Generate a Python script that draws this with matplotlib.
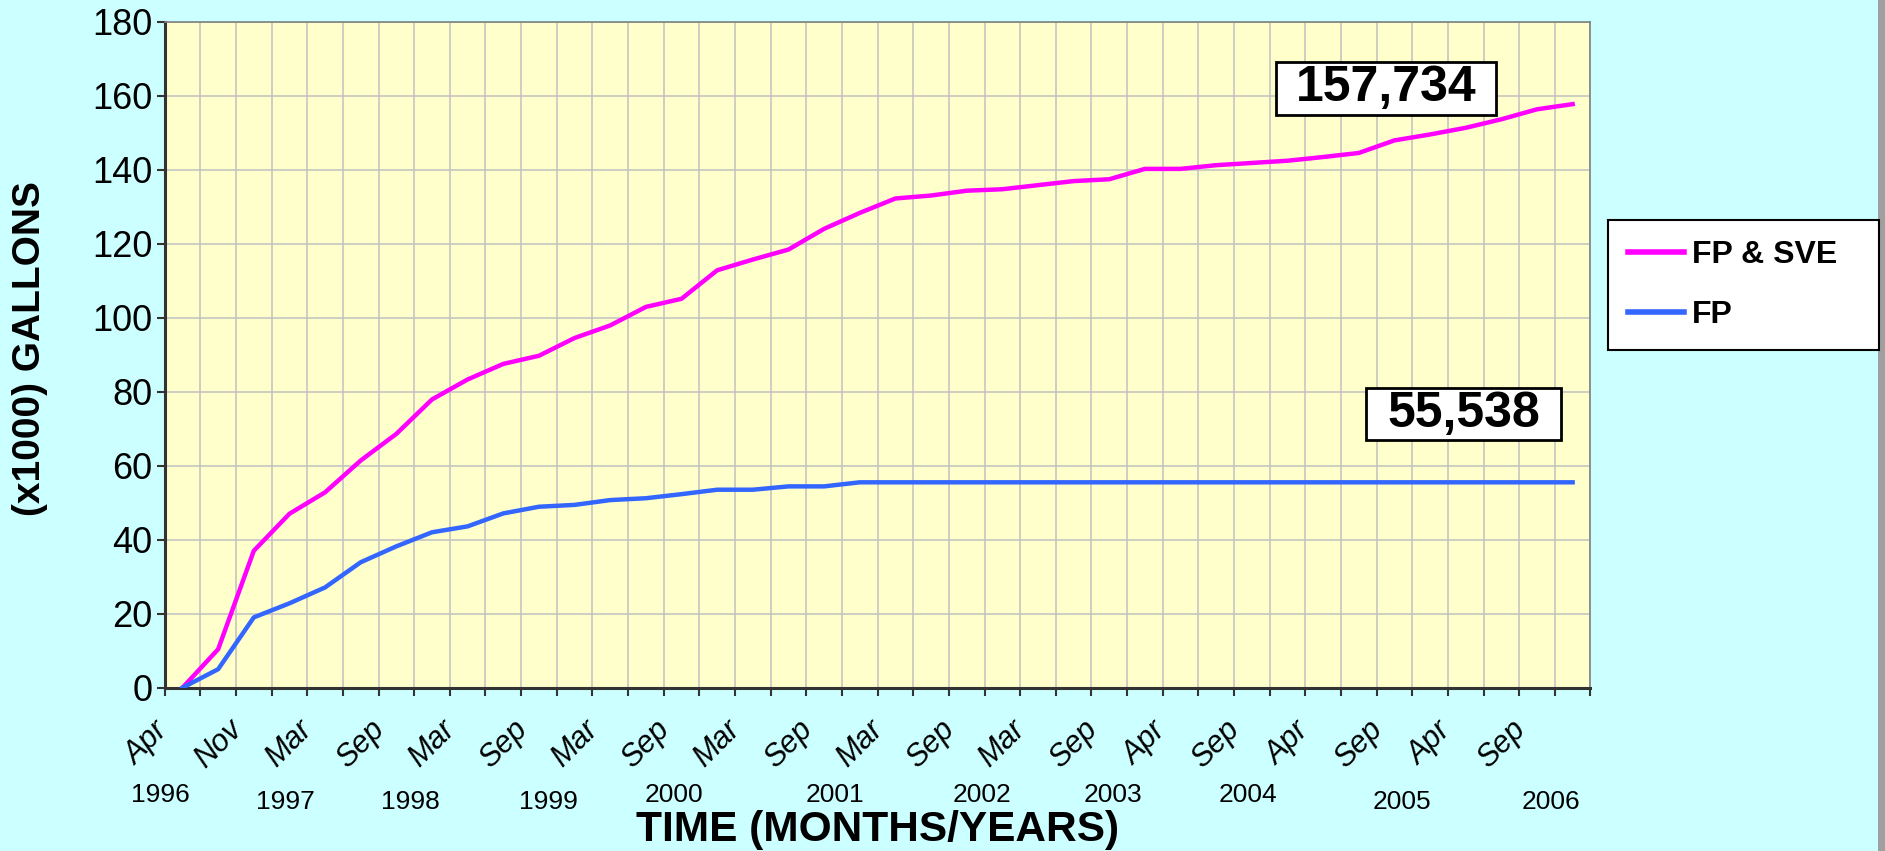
import numpy as np
import matplotlib
matplotlib.use("Agg")
import matplotlib.pyplot as plt
from matplotlib.patches import Rectangle

OUT_FILE = "out.png"

# cumulative product recovered, x1000 gallons (one value per sample period)
fp_sve = [0, 10.4, 37.0, 47.0, 52.8, 61.4, 68.6, 77.9, 83.3, 87.5,
          89.7, 94.5, 97.9, 102.9, 105.1, 112.8, 115.7, 118.4, 124.0, 128.3,
          132.2, 133.0, 134.3, 134.7, 135.8, 136.9, 137.4, 140.2, 140.2, 141.2,
          141.8, 142.4, 143.4, 144.5, 147.9, 149.5, 151.3, 153.6, 156.3, 157.7]
fp = [0, 5.0, 19.0, 22.8, 27.1, 33.9, 38.2, 42.0, 43.6, 47.1,
      48.9, 49.4, 50.7, 51.2, 52.3, 53.5, 53.5, 54.4, 54.4, 55.5,
      55.5, 55.5, 55.5, 55.5, 55.5, 55.5, 55.5, 55.5, 55.5, 55.5,
      55.5, 55.5, 55.5, 55.5, 55.5, 55.5, 55.5, 55.5, 55.5, 55.5]

series_names = ["FP & SVE", "FP"]
final_totals = ["157,734", "55,538"]

# one month label every second sample
months = ["Apr", "Nov", "Mar", "Sep", "Mar", "Sep", "Mar", "Sep", "Mar", "Sep",
          "Mar", "Sep", "Mar", "Sep", "Apr", "Sep", "Apr", "Sep", "Apr", "Sep"]
years = ["1996", "1997", "1998", "1999", "2000", "2001",
         "2002", "2003", "2004", "2005", "2006"]
# where the hand-placed year labels sit (sample units) and their row
year_x = [-0.63, 2.9, 6.4, 10.28, 13.8, 18.3, 22.44, 26.1, 29.9, 34.2, 38.4]
year_low = [False, True, True, True, False, False, False, False, False, True, True]

plt.rcParams["font.family"] = ["Liberation Sans", "DejaVu Sans"]

BG = "#CCFFFF"
PLOT_BG = "#FFFFCC"

fig = plt.figure(figsize=(18.85, 8.51), dpi=100, facecolor=BG)
ax = fig.add_axes([0.08737, 0.19190, 0.75637, 0.78272])
ax.set_facecolor(PLOT_BG)

x = np.arange(len(fp_sve))
l1, = ax.plot(x, fp_sve, color="#FF00FF", lw=3.2, zorder=3)
l2, = ax.plot(x, fp, color="#3366FF", lw=3.2, zorder=3)

ax.set_xlim(-0.5, len(fp_sve) - 0.5)
ax.set_ylim(0, 180)
ax.set_yticks(np.arange(0, 181, 20))
ax.set_xticks(np.arange(-0.5, len(fp_sve), 1))
ax.set_xticklabels([])
ax.grid(True, color="#C0C0C0", lw=1.1)
ax.set_axisbelow(True)

ax.tick_params(axis="both", direction="out", length=6, width=1.5,
               color="#333333")
ax.tick_params(axis="y", labelsize=26, pad=3)
for s in ("left", "bottom"):
    ax.spines[s].set_color("#333333")
    ax.spines[s].set_linewidth(2.2)
for s in ("top", "right"):
    ax.spines[s].set_color("#808080")
    ax.spines[s].set_linewidth(1.2)

tr = ax.get_xaxis_transform()
for k, m in enumerate(months):
    ax.text(2 * k - 1, -0.0845, m, transform=tr, rotation=45, ha="center",
            va="center", fontsize=22, style="italic", clip_on=False)
for yr, xp, low in zip(years, year_x, year_low):
    ax.text(xp, -0.1716 if low else -0.161, yr, transform=tr, ha="center",
            va="center", fontsize=19, clip_on=False)

ax.set_xlabel("TIME (MONTHS/YEARS)", fontsize=30.5, fontweight="bold",
              va="center")
ax.xaxis.set_label_coords(0.5, -0.213)
ax.set_ylabel("(x1000) GALLONS", fontsize=28, fontweight="bold", va="center")
ax.yaxis.set_label_coords(-0.0945, 0.5085)

# boxed end totals
boxes = [(0.7794, 0.8598, 0.1543, 0.0796), (0.8425, 0.3719, 0.1368, 0.0785)]
for (bx, by, bw, bh), txt in zip(boxes, final_totals):
    ax.add_patch(Rectangle((bx, by), bw, bh, transform=ax.transAxes,
                           facecolor="white", edgecolor="black", lw=2,
                           zorder=4))
    ax.text(bx + bw / 2, by + bh / 2, txt, transform=ax.transAxes,
            ha="center", va="center", fontsize=36, fontweight="bold",
            zorder=5)

leg = fig.legend([l1, l2], series_names, loc="upper left",
                 bbox_to_anchor=(1608 / 1885, 1 - 220 / 851, 271 / 1885, 0),
                 mode="expand", borderaxespad=0, fancybox=False,
                 edgecolor="black", framealpha=1, facecolor="white",
                 prop={"weight": "bold", "size": 23}, handlelength=1.75,
                 handletextpad=0.25, labelspacing=0.95, borderpad=0.62)
leg.get_frame().set_linewidth(1.5)
for h in leg.legend_handles:
    h.set_linewidth(4)

# grey slide edge at the far right
fig.patches.append(Rectangle((0.9965, 0), 0.0035, 1, transform=fig.transFigure,
                             facecolor="#A0A0A0", edgecolor="none"))

fig.savefig(OUT_FILE, dpi=100, facecolor=BG)
print(f"Plot saved as {OUT_FILE}")
